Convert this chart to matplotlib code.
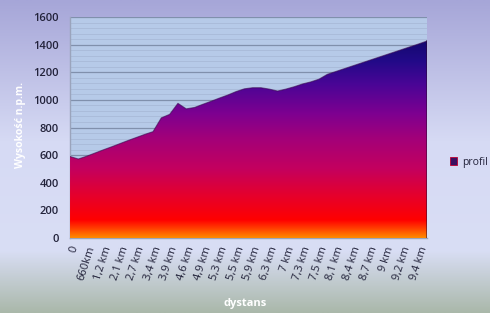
import numpy as np
import matplotlib
matplotlib.use('Agg')
import matplotlib.pyplot as plt
from matplotlib.colors import LinearSegmentedColormap
from matplotlib.patches import Patch

# elevation profile (m n.p.m.), one value per category step
elevation = [590, 572, 592, 615, 638, 660, 683, 706, 728, 750,
             770, 870, 895, 975, 935, 945, 968, 990, 1013, 1035,
             1060, 1080, 1088, 1088, 1078, 1064, 1078, 1095, 1115, 1130,
             1150, 1185, 1205, 1225, 1245, 1265, 1285, 1305, 1325, 1345,
             1365, 1385, 1405, 1426]
tick_labels = ['0', '660km', '1,2 km', '2,1 km', '2,7 km', '3,4 km', '3,9 km',
               '4,6 km', '4,9 km', '5,3 km', '5,5 km', '5,9 km', '6,3 km', '7 km',
               '7,3 km', '7,5 km', '8,1 km', '8,4 km', '8,7 km', '9 km',
               '9,2 km', '9,4 km']
label_step = 2

plt.rcParams['font.family'] = ['Open Sans', 'DejaVu Sans']

fig = plt.figure(figsize=(4.9, 3.13), dpi=100)

# figure background gradient
bg = fig.add_axes([0, 0, 1, 1], zorder=-10)
bg_cmap = LinearSegmentedColormap.from_list('bg', [
    (0.0, '#a6a6d8'), (0.45, '#d6daf4'), (0.80, '#d9def5'), (1.0, '#aab8aa')])
bg.imshow(np.linspace(0, 1, 256).reshape(-1, 1), aspect='auto', cmap=bg_cmap,
          extent=(0, 1, 0, 1), origin='upper')
bg.axis('off')

ax = fig.add_axes([0.1429, 0.2396, 0.7285, 0.7061])
ax.set_facecolor('#b6cae8')

x = np.arange(len(elevation))
y = np.array(elevation, dtype=float)

ymax = 1600
fill = ax.fill_between(x, 0, y, facecolor='none', edgecolor='none', zorder=3)
grad = LinearSegmentedColormap.from_list('profil', [
    (0.0, '#ff8a00'), (0.04, '#ff4a00'), (0.09, '#ff0000'), (0.22, '#e4002e'),
    (0.35, '#c4005e'), (0.50, '#a40078'), (0.63, '#7e0090'), (0.78, '#4a0596'),
    (0.90, '#220a88'), (1.0, '#140870')])
img = ax.imshow(np.linspace(0, 1, 512).reshape(-1, 1), aspect='auto', cmap=grad,
                extent=(0, x[-1], 0, y.max()), origin='lower', zorder=3)
img.set_clip_path(fill.get_paths()[0], transform=ax.transData)
ax.plot(x, y, color='#3a0a50', lw=0.8, alpha=0.6, zorder=4)
ax.plot([x[-1], x[-1]], [0, y[-1]], color='#2a0830', lw=1.2, alpha=0.6, zorder=4)

ax.set_xlim(0, x[-1])
ax.set_ylim(0, ymax)
ax.set_yticks(np.arange(0, ymax + 1, 200))
ax.set_yticks(np.arange(0, ymax + 1, 40), minor=True)
ax.grid(True, which='major', axis='y', color='#8090ac', lw=0.9, zorder=1)
ax.grid(True, which='minor', axis='y', color='#a8bad8', lw=0.6, zorder=1)
ax.set_axisbelow(True)

ax.set_xticks(x[::label_step][:len(tick_labels)])
ax.set_xticklabels(tick_labels, rotation=72, ha='right', va='top',
                   rotation_mode='anchor')
ax.tick_params(axis='both', which='both', length=0, labelsize=8,
               labelcolor='#22223a')
ax.tick_params(axis='y', pad=8)
ax.tick_params(axis='x', pad=5)
for lab in ax.get_yticklabels():
    lab.set_fontweight('semibold')

for side in ['top', 'right']:
    ax.spines[side].set_visible(False)
for side in ['left', 'bottom']:
    ax.spines[side].set_color('#9aa4bc')
    ax.spines[side].set_linewidth(1.0)

fig.text(0.5, 0.03, 'dystans', color='white', fontsize=8, fontweight='bold',
         ha='center', va='center')
fig.text(0.042, 0.60, 'Wysokość n.p.m.', color='white', fontsize=7.5,
         fontweight='bold', ha='center', va='center', rotation=90)

leg = fig.legend(handles=[Patch(facecolor='#3a1060', edgecolor='#c00030', lw=0.6)],
                 labels=['profil'], loc='center left',
                 bbox_to_anchor=(0.906, 0.482), frameon=False, fontsize=7.5,
                 handlelength=0.7, handleheight=0.7, handletextpad=0.4,
                 borderaxespad=0.2)
for t in leg.get_texts():
    t.set_color('#22223a')

fig.savefig('out.png', dpi=100)
